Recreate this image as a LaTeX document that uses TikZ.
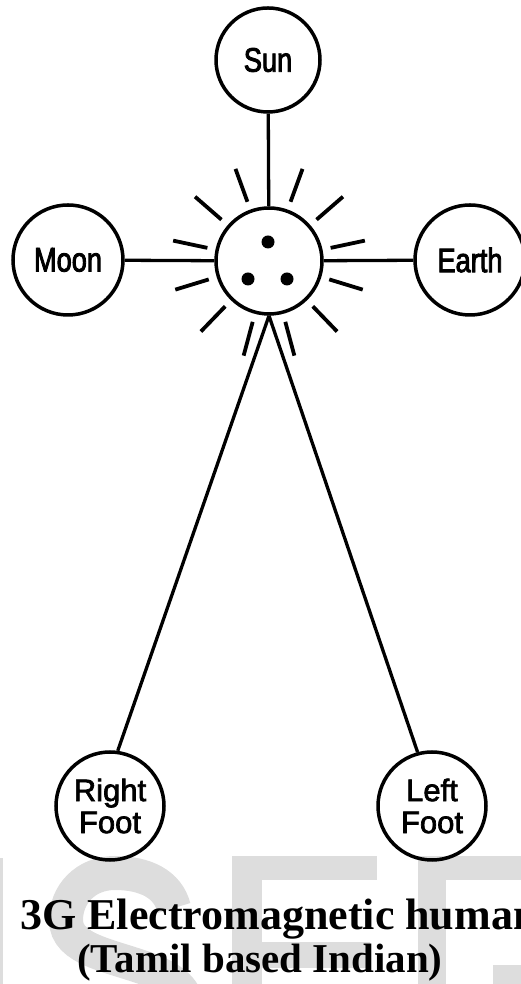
\documentclass[tikz,border=0pt]{standalone}
\usepackage{fontspec}
\newfontfamily\topfont[FakeStretch=0.8,FakeBold=2.5]{Liberation Sans}
\newfontfamily\footfont[FakeBold=2.2]{Liberation Sans}
\newfontfamily\capfont{Liberation Serif}
\definecolor{wm}{RGB}{221,221,221}
\begin{document}
\begin{tikzpicture}[x=1pt,y=1pt,
  planet/.style={circle, draw, line width=3.5pt, inner sep=0pt, font=\topfont\fontsize{34}{34}\selectfont},
  footnode/.style={circle, draw, line width=3.5pt, inner sep=0pt, minimum size=108pt, align=center, font=\footfont\fontsize{31}{32}\selectfont},
  link/.style={line width=3.3pt},
  ray/.style={line width=3.8pt},
  wmark/.style={fill=wm, draw=none},
  captext/.style={inner sep=0pt, font=\capfont\bfseries\fontsize{#1}{#1}\selectfont}]
\useasboundingbox (0,0) rectangle (521,984);
\clip (0,0) rectangle (521,984);
% watermark
\fill[wmark] (0,0) rectangle (3,126);
\draw[wm, line width=34pt] (174,76) .. controls (168,100) and (145,111) .. (115,111) .. controls (85,111) and (66,89) .. (66,64) .. controls (66,34) and (110,29) .. (150,14) .. controls (175,4) and (185,-6) .. (190,-26);
\fill[wmark] (232,0) rectangle (262,128);
\fill[wmark] (232,104) rectangle (377,128);
\fill[wmark] (262,16) rectangle (370,42);
\fill[wmark] (418,0) rectangle (446,128);
\fill[wmark] (446,104) rectangle (521,128);
\fill[wmark] (493,0) rectangle (521,19);
% nodes
\node[planet, minimum size=104pt] (sun) at (268,924) {Sun};
\node[planet, minimum size=106pt] (c) at (269,723) {};
\node[planet, minimum size=110pt] (moon) at (68,724) {Moon};
\node[planet, minimum size=110pt] (earth) at (470,724) {Earth};
\node[footnode] (rf) at (110,178) {Right\\Foot};
\node[footnode] (lf) at (432,178) {Left\\Foot};
% connectors
\draw[link] (sun) -- (c);
\draw[link] (moon) -- (c);
\draw[link] (c) -- (earth);
\draw[link] (c.south) -- (rf.82);
\draw[link] (c.south) -- (lf.105);
% rays
\foreach \a in {110,139,168,197,226,255,70,41,12,-17,-46,-75}
  \draw[ray] ([shift={(\a:63)}]c.center) -- ([shift={(\a:98)}]c.center);
% dots
\fill ([shift={(-1,19)}]c.center) circle (6.5);
\fill ([shift={(-21,-18)}]c.center) circle (6.5);
\fill ([shift={(18,-18)}]c.center) circle (6.5);
% caption
\node[captext=44, anchor=base west] (cap1) at (20,54) {3G Electromagnetic human};
\node[captext=41, anchor=base] (cap2) at (260,12) {(Tamil based Indian)};
\end{tikzpicture}
\end{document}
